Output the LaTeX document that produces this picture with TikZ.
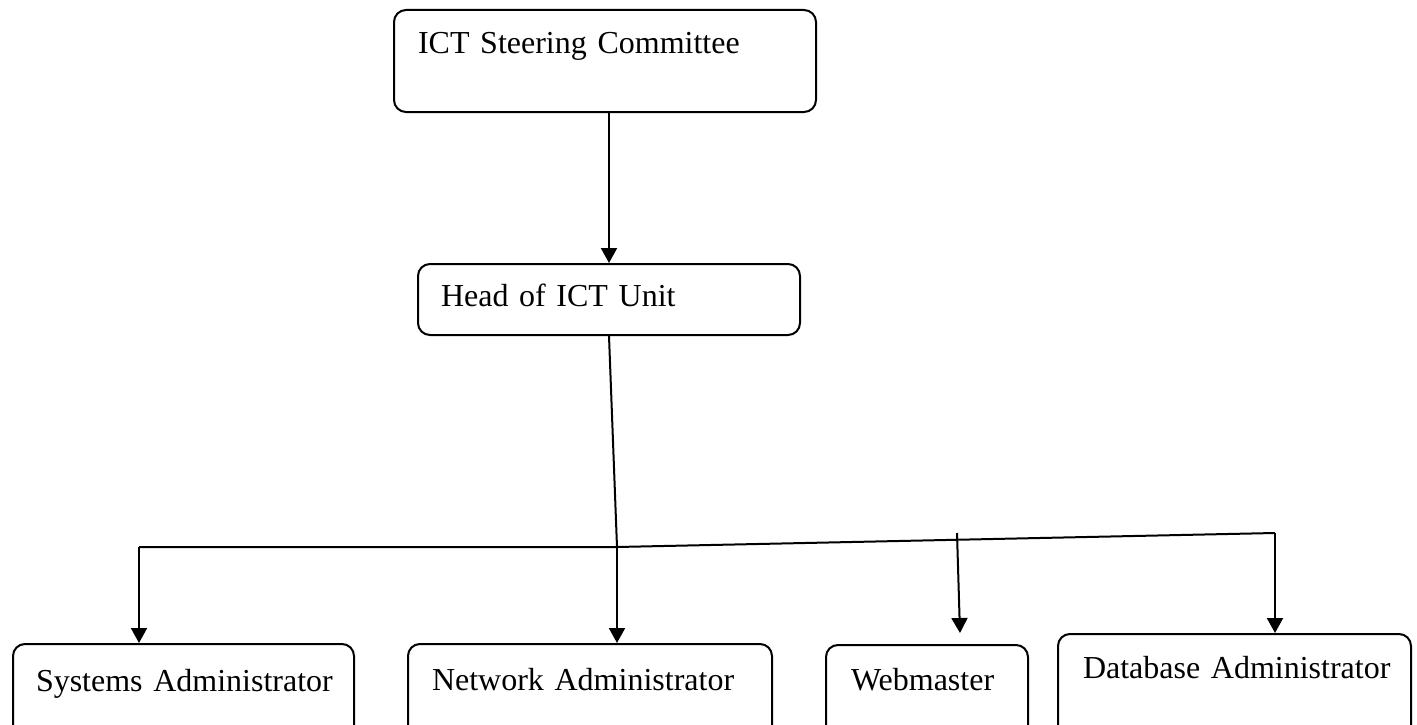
\documentclass[tikz,border=0pt]{standalone}
\usepackage{fontspec}
\setmainfont{Liberation Serif}
\usetikzlibrary{arrows.meta}
\tikzset{
  post/.style={draw, line width=2pt, rounded corners=12pt, anchor=north west, align=left, inner ysep=0pt},
}
\begin{document}
\begin{tikzpicture}[x=1pt, y=1pt, font=\fontsize{32}{38}\selectfont, line width=2pt, >={Triangle[length=15pt,width=16pt]}]
            \useasboundingbox (0,0) rectangle (1417,-725);
            \clip (0,0) rectangle (1417,-725);
            % boxes
            \node[post, inner xsep=24pt, text width=374pt, text height=44pt, text depth=58pt] (committee) at (393,-9) {\mbox{ICT Steering Committee}};
            \node[post, inner xsep=23pt, text width=336pt, text height=42pt, text depth=29pt] (head) at (417,-263) {\mbox{Head of ICT Unit}};
            \node[post, inner xsep=23pt, text width=295pt, text height=47pt, text depth=60pt] (sys) at (12,-643) {\mbox{Systems Administrator}};
            \node[post, inner xsep=24pt, text width=316pt, text height=46pt, text depth=60pt] (net) at (407,-643) {\mbox{Network Administrator}};
            \node[post, inner xsep=25pt, text width=152pt, text height=45pt, text depth=60pt] (web) at (825,-644) {\mbox{Webmaster}};
            \node[post, inner xsep=25pt, text width=303pt, text height=44pt, text depth=70pt] (db) at (1057,-633) {\mbox{Database Administrator}};
            % bus line
            \coordinate (busL) at (139,-547);
            \coordinate (bus) at (617,-547);
            \coordinate (busR) at (1275,-533);
            \coordinate (webtop) at (957,-533);
            \coordinate (webtip) at (960,-633);
            \draw[->] (head.north |- committee.south) -- (head.north);
            \draw (head.south) -- (bus);
            \draw (busL) -- (bus) -- (busR);
            \draw[->] (busL) -- (busL |- sys.north);
            \draw[->] (bus) -- (bus |- net.north);
            \draw[->] (webtop) -- (webtip);
            \draw[->] (busR) -- (busR |- db.north);
        \end{tikzpicture}
\end{document}
